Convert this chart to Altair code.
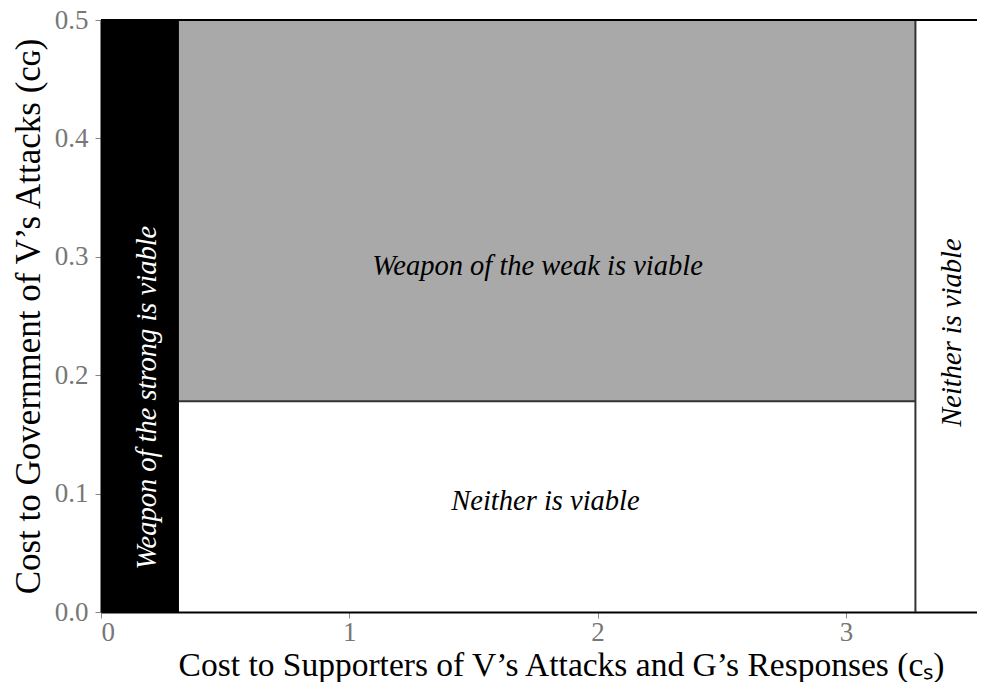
import altair as alt
import pandas as pd

# Regions (data coordinates)
rect_x = [0.0, 0.314]
rect_x2 = [0.314, 3.28]
rect_y = [0.0, 0.178]
rect_y2 = [0.5, 0.5]
rect_fill = ["#000000", "#a9a9a9"]

# Boundary lines
hline_x = [0.314]
hline_x2 = [3.28]
hline_y = [0.178]
vline_x = [3.28]
vline_y = [0.0]
vline_y2 = [0.5]

x_domain = [0, 3.528]
y_domain = [0, 0.5]

# Annotations
labels = ["Weapon of the weak is viable", "Neither is viable",
          "Weapon of the strong is viable", "Neither is viable"]
label_x = [1.758, 1.79, 0.185, 3.427]
label_y = [0.292, 0.094, 0.181, 0.236]
label_angle = [0, 0, 270, 270]
label_color = ["#000000", "#000000", "#ffffff", "#000000"]

FONT = "Liberation Serif"

rects = pd.DataFrame({"x": rect_x, "x2": rect_x2, "y": rect_y, "y2": rect_y2, "fill": rect_fill})
hl = pd.DataFrame({"x": hline_x, "x2": hline_x2, "y": hline_y})
vl = pd.DataFrame({"x": vline_x, "y": vline_y, "y2": vline_y2})
top = pd.DataFrame({"x": [x_domain[0]], "x2": [x_domain[1]], "y": [y_domain[1]]})
ann = pd.DataFrame({"t": labels, "x": label_x, "y": label_y, "a": label_angle, "c": label_color})

xs = alt.Scale(domain=x_domain, nice=False, zero=False)
ys = alt.Scale(domain=y_domain, nice=False, zero=False)

xaxis = alt.Axis(values=[0, 1, 2, 3], format="d", grid=False, titlePadding=4, titleFontSize=33.5,
                 titleX=460,
                 title="Cost to Supporters of V\u2019s Attacks and G\u2019s Responses (c\u209b)")
yaxis = alt.Axis(values=[0, 0.1, 0.2, 0.3, 0.4, 0.5], format=".1f", grid=False,
                 titlePadding=8, titleFontSize=35,
                 title="Cost to Government of V\u2019s Attacks (c\u0262)")

base_rect = alt.Chart(rects).mark_rect().encode(
    x=alt.X("x:Q", scale=xs, axis=xaxis),
    x2="x2:Q",
    y=alt.Y("y:Q", scale=ys, axis=yaxis),
    y2="y2:Q",
    color=alt.Color("fill:N", scale=None),
)

hrule = alt.Chart(hl).mark_rule(color="#333333", strokeWidth=2).encode(
    x=alt.X("x:Q", scale=xs), x2="x2:Q", y=alt.Y("y:Q", scale=ys))
vrule = alt.Chart(vl).mark_rule(color="#333333", strokeWidth=2).encode(
    x=alt.X("x:Q", scale=xs), y=alt.Y("y:Q", scale=ys), y2="y2:Q")
trule = alt.Chart(top).mark_rule(color="#000000", strokeWidth=2).encode(
    x=alt.X("x:Q", scale=xs), x2="x2:Q", y=alt.Y("y:Q", scale=ys))

text = alt.Chart(ann).mark_text(font=FONT, fontStyle="italic", fontSize=28.5,
                                align="center", baseline="middle").encode(
    x=alt.X("x:Q", scale=xs), y=alt.Y("y:Q", scale=ys),
    text="t:N",
    angle=alt.Angle("a:Q", scale=None),
    color=alt.Color("c:N", scale=None),
)

chart = alt.layer(base_rect, hrule, vrule, trule, text).properties(
    width=876, height=592,
    autosize=alt.AutoSizeParams(type="none"),
    padding={"left": 93, "top": 12, "right": 0, "bottom": 70},
).configure_view(stroke=None).configure_axis(
    domainColor="#000000", domainWidth=2,
    tickColor="#888888", tickSize=6, tickWidth=1,
    labelColor="#777777", labelFont=FONT, labelFontSize=27,
    titleFont=FONT, titleFontWeight="normal", titleColor="#000000",
).configure_axisY(labelPadding=7).configure_axisX(labelPadding=1)

chart.save("out.html", embed_options={"renderer": "svg", "actions": False})
